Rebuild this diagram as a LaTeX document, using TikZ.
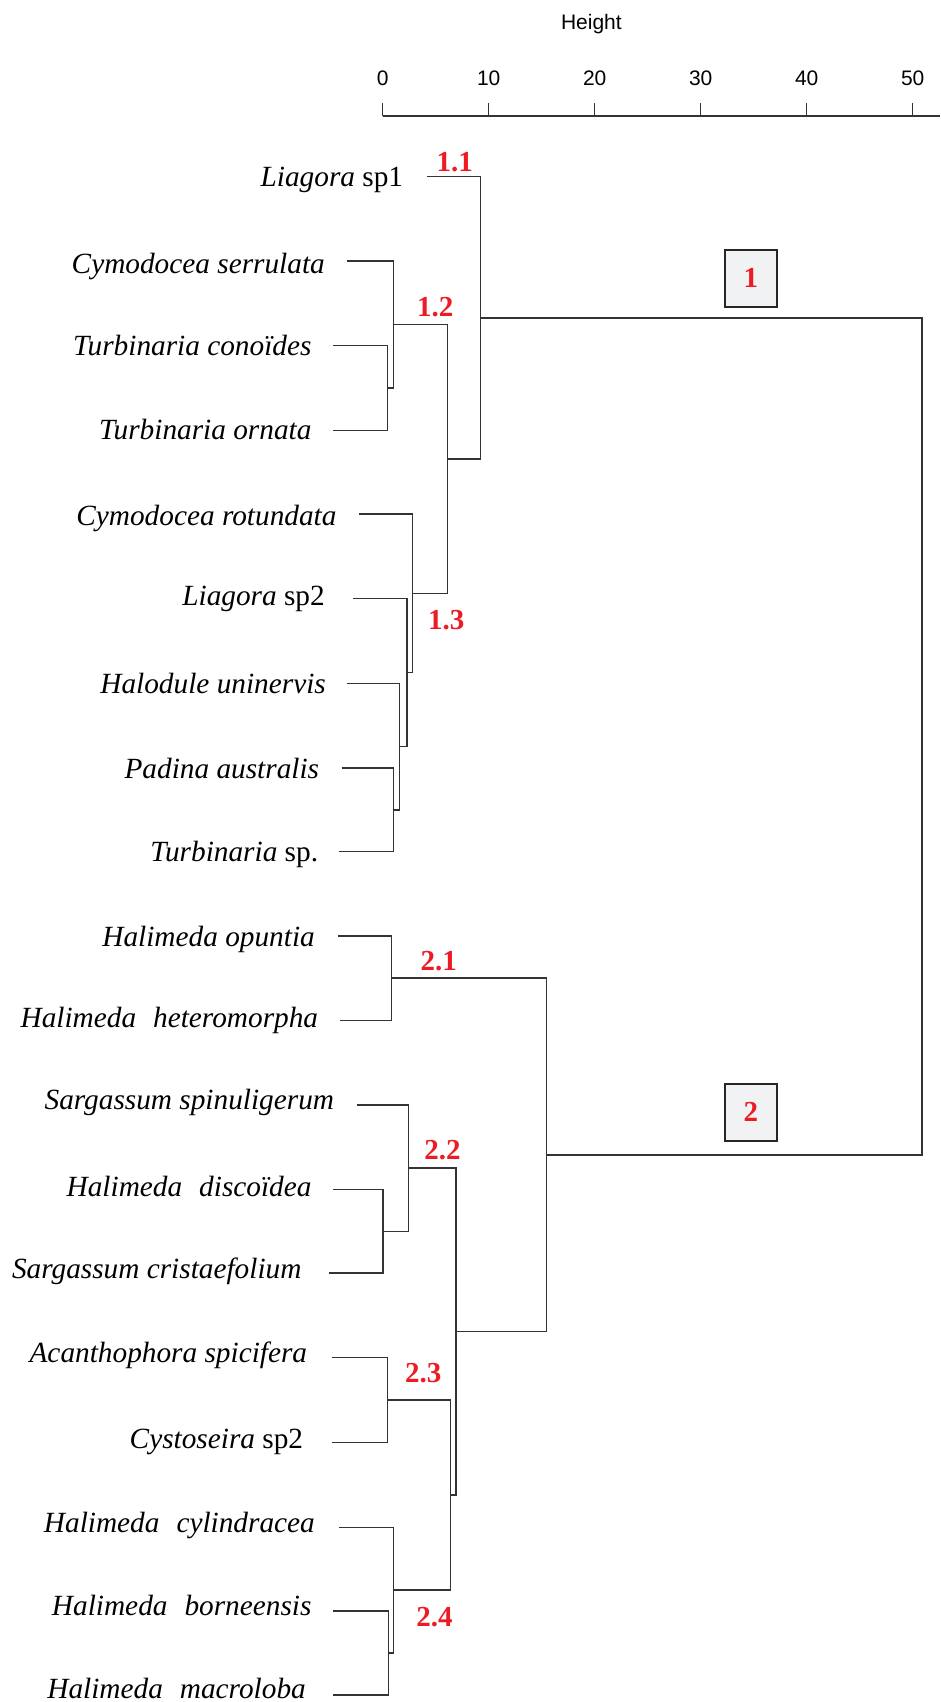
\documentclass[tikz,border=0pt]{standalone}
\usepackage{fontspec}
\setmainfont{Liberation Serif}
\newfontfamily\axisfont{Liberation Sans}
\definecolor{lbl}{RGB}{237,28,36}
\definecolor{boxfill}{RGB}{241,242,244}
\begin{document}
\begin{tikzpicture}[x=1pt,y=-1pt,
  link/.style={draw=black!80, line width=1.45pt},
  sp/.style={anchor=base east, inner sep=0pt, font=\fontsize{29.3}{34}\selectfont\itshape},
  clab/.style={inner sep=0pt, text=lbl, font=\fontsize{29}{34}\selectfont\bfseries},
  grp/.style={draw=black!85, line width=2pt, fill=boxfill, minimum width=52pt, minimum height=57pt, inner sep=0pt, text=lbl, font=\fontsize{29}{34}\selectfont\bfseries},
  ax/.style={inner sep=0pt, font=\axisfont\fontsize{21}{24}\selectfont}]
\useasboundingbox (0,0) rectangle (940,1702);

% axis
\node[ax] (height) at (591.4,24) {Height};
\coordinate (a0) at (382.7,116);
\coordinate (aend) at (940,116);
\draw[link] (a0) -- (aend);
\foreach \v [count=\i] in {0,10,20,30,40,50} {
  \coordinate (tk\i) at ({382.7+10.6*\v},116);
  \draw[link] (tk\i) -- ++(0,-13.5);
  \node[ax] (tn\i) at ({382.7+10.6*\v},78.3) {\v};
}

% leaves: line starts
\coordinate (l1) at (427.3,176.7);
\coordinate (l2) at (346.7,261.2);
\coordinate (l3) at (333.3,345.5);
\coordinate (l4) at (333.3,430.3);
\coordinate (l5) at (359.3,514.0);
\coordinate (l6) at (353.3,598.5);
\coordinate (l7) at (347.3,683.3);
\coordinate (l8) at (341.7,768.0);
\coordinate (l9) at (339.3,851.5);
\coordinate (l10) at (337.7,935.8);
\coordinate (l11) at (340.0,1020.3);
\coordinate (l12) at (356.7,1105.0);
\coordinate (l13) at (333.3,1189.7);
\coordinate (l14) at (329.3,1273.0);
\coordinate (l15) at (332.3,1357.7);
\coordinate (l16) at (332.3,1442.3);
\coordinate (l17) at (339.3,1527.3);
\coordinate (l18) at (333.3,1611.0);
\coordinate (l19) at (333.3,1695.0);

% leaf labels
\node[sp] (t1) at (403.3,186.7) {Liagora\/ \textup{sp1}};
\node[sp] (t2) at (325.0,273.0) {Cymodocea serrulata};
\node[sp] (t3) at (311.7,355.0) {Turbinaria conoïdes};
\node[sp] (t4) at (311.7,439.0) {Turbinaria ornata};
\node[sp] (t5) at (336.7,525.0) {Cymodocea rotundata};
\node[sp] (t6) at (325.0,605.5) {Liagora\/ \textup{sp2}};
\node[sp] (t7) at (326.0,693.3) {Halodule uninervis};
\node[sp] (t8) at (319.3,778.3) {Padina australis};
\node[sp] (t9) at (318.3,861.7) {Turbinaria\/ \textup{sp.}};
\node[sp] (t10) at (315.0,946.0) {Halimeda opuntia};
\node[sp] (t11) at (318.3,1027.0) {Halimeda\hspace{0.33em} heteromorpha};
\node[sp] (t12) at (334.3,1109.0) {Sargassum spinuligerum};
\node[sp] (t13) at (311.7,1196.0) {Halimeda\hspace{0.33em} discoïdea};
\node[sp] (t14) at (301.7,1278.5) {Sargassum cristaefolium};
\node[sp] (t15) at (307.3,1362.0) {Acanthophora spicifera};
\node[sp] (t16) at (303.3,1448.3) {Cystoseira\/ \textup{sp2}};
\node[sp] (t17) at (315.0,1532.3) {Halimeda\hspace{0.33em} cylindracea};
\node[sp] (t18) at (311.7,1615.0) {Halimeda\hspace{0.33em} borneensis};
\node[sp] (t19) at (306.0,1698.3) {Halimeda\hspace{0.33em} macroloba};

% merge points
\coordinate (m34) at (387.7,387.9);
\coordinate (m234) at (393.3,324.6);
\coordinate (m89) at (393.3,809.8);
\coordinate (m789) at (399.7,746.5);
\coordinate (m6789) at (407.0,672.5);
\coordinate (m13c) at (412.7,593.3);
\coordinate (m12c) at (447.7,459.0);
\coordinate (m1) at (480.3,317.8);
\coordinate (m1011) at (391.7,978.0);
\coordinate (m1314) at (383.0,1231.3);
\coordinate (m22c) at (408.3,1168.2);
\coordinate (m1516) at (387.3,1400.0);
\coordinate (m1819) at (388.7,1653.0);
\coordinate (m24c) at (393.3,1590.2);
\coordinate (m2324) at (450.7,1495.1);
\coordinate (m2b) at (456.0,1331.6);
\coordinate (m2) at (546.7,1154.8);
\coordinate (root) at (922.0,736.3);

% connectors
\draw[link] (l3) -| (m34) |- (l4);
\draw[link] (l2) -| (m234) |- (m34);
\draw[link] (l8) -| (m89) |- (l9);
\draw[link] (l7) -| (m789) |- (m89);
\draw[link] (l6) -| (m6789) |- (m789);
\draw[link] (l5) -| (m13c) |- (m6789);
\draw[link] (m234) -| (m12c) |- (m13c);
\draw[link] (l1) -| (m1) |- (m12c);
\draw[link] (l10) -| (m1011) |- (l11);
\draw[link] (l13) -| (m1314) |- (l14);
\draw[link] (l12) -| (m22c) |- (m1314);
\draw[link] (l15) -| (m1516) |- (l16);
\draw[link] (l18) -| (m1819) |- (l19);
\draw[link] (l17) -| (m24c) |- (m1819);
\draw[link] (m1516) -| (m2324) |- (m24c);
\draw[link] (m22c) -| (m2b) |- (m2324);
\draw[link] (m1011) -| (m2) |- (m2b);
\draw[link] (m1) -| (root) |- (m2);

% cluster labels
\node[clab] (c11) at (454.7,161.7) {1.1};
\node[clab] (c12) at (435.3,306.7) {1.2};
\node[clab] (c13) at (446.3,620.0) {1.3};
\node[clab] (c21) at (438.7,961.0) {2.1};
\node[clab] (c22) at (442.5,1150.0) {2.2};
\node[clab] (c23) at (423.2,1373.3) {2.3};
\node[clab] (c24) at (434.5,1616.7) {2.4};

% group boxes
\node[grp] (g1) at (750.8,278.3) {1};
\node[grp] (g2) at (750.8,1112.3) {2};
\end{tikzpicture}
\end{document}
